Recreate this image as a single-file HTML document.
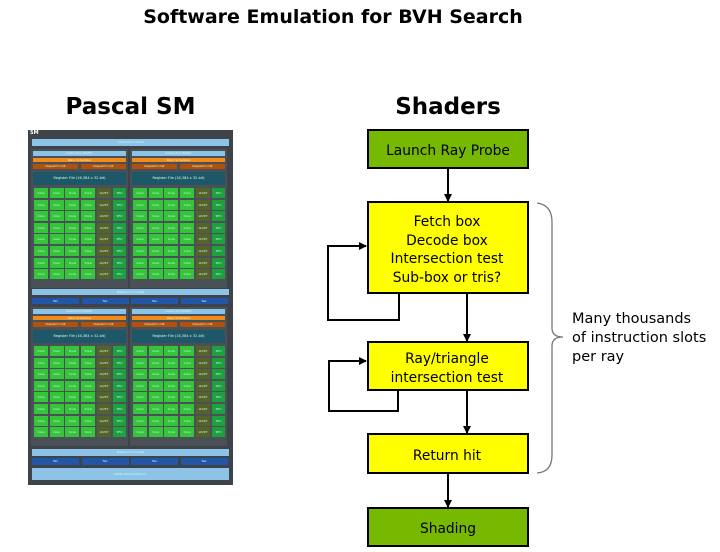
<!DOCTYPE html>
<html><head><meta charset="utf-8"><style>
body{margin:0;width:720px;height:552px;background:#fff;position:relative;overflow:hidden;font-family:"DejaVu Sans","Liberation Sans",sans-serif}
.a{position:absolute;box-sizing:border-box;color:#cfe;font-size:3px;text-align:center;overflow:hidden;white-space:nowrap}
</style></head><body>
<div style="position:absolute;left:0;width:666px;top:6px;text-align:center;font:bold 19px 'DejaVu Sans',sans-serif;color:#000">Software Emulation for BVH Search</div>
<div style="position:absolute;left:28px;width:205px;top:94px;text-align:center;font:bold 23px 'DejaVu Sans',sans-serif;color:#000">Pascal SM</div>
<div style="position:absolute;left:368px;width:160px;top:94px;text-align:center;font:bold 23px 'DejaVu Sans',sans-serif;color:#000">Shaders</div>
<div id="sm"></div>
<svg width="720" height="552" style="position:absolute;left:0;top:0" font-family="DejaVu Sans, Liberation Sans, sans-serif">
<defs><marker id="ar" markerWidth="8" markerHeight="8" refX="7" refY="4" orient="auto" markerUnits="userSpaceOnUse"><path d="M0,0 L8,4 L0,8 z" fill="#000"/></marker></defs>
<g stroke="#000" stroke-width="2">
<rect x="368" y="130" width="160" height="38" fill="#76b900"/>
<rect x="368" y="202" width="160" height="91" fill="#ffff00"/>
<rect x="368" y="342" width="160" height="48" fill="#ffff00"/>
<rect x="368" y="434" width="160" height="39" fill="#ffff00"/>
<rect x="368" y="508" width="160" height="38" fill="#76b900"/>
<g fill="none">
<line x1="448" y1="168" x2="448" y2="201" marker-end="url(#ar)"/>
<line x1="467" y1="293" x2="467" y2="341" marker-end="url(#ar)"/>
<polyline points="399,293 399,320 328,320 328,246 366,246" marker-end="url(#ar)"/>
<polyline points="398,390 398,411 329,411 329,361 366,361" marker-end="url(#ar)"/>
<line x1="467" y1="390" x2="467" y2="433" marker-end="url(#ar)"/>
<line x1="448" y1="473" x2="448" y2="507" marker-end="url(#ar)"/>
</g></g>
<path d="M537,203 Q552,205 552,222 L552,328 Q552,337 563,337 Q552,337 552,346 L552,455 Q552,472 537,473" fill="none" stroke="#777" stroke-width="1.3"/>
<g font-size="13.8" fill="#000" text-anchor="middle">
<text x="448" y="155">Launch Ray Probe</text>
<text x="447" y="226">Fetch box</text>
<text x="447" y="245">Decode box</text>
<text x="447" y="263">Intersection test</text>
<text x="447" y="282">Sub-box or tris?</text>
<text x="447" y="363">Ray/triangle</text>
<text x="447" y="382">intersection test</text>
<text x="447" y="460">Return hit</text>
<text x="448" y="533">Shading</text>
</g>
<g font-size="14.5" fill="#000">
<text x="572" y="323">Many thousands</text>
<text x="572" y="342">of instruction slots</text>
<text x="572" y="361">per ray</text>
</g>
</svg>
<script>
var h='';
function r(x,y,w,H,c,t,fs){h+='<div class="a" style="left:'+x+'px;top:'+y+'px;width:'+w+'px;height:'+H+'px;background:'+c+';line-height:'+H+'px'+(fs?';font-size:'+fs+'px':'')+'">'+(t||'')+'</div>';}
r(28,130,205,355,'#3d4348');
h+='<div class="a" style="left:30px;top:130px;color:#fff;font-size:5px;font-weight:bold">SM</div>';
r(32,139,197,7,'#8ec3e8','Instruction Cache');
function part(px,py){
 r(px,py,97,139,'#4a5156');
 r(px+2,py+2,93,5,'#8ec3e8','Instruction Buffer');
 r(px+2,py+9,93,4,'#f28a1c','Warp Scheduler');
 r(px+2,py+15,45,5,'#b0520e','Dispatch Unit');r(px+50,py+15,45,5,'#b0520e','Dispatch Unit');
 r(px+2,py+23,93,13,'#1e5868','Register File (16,384 x 32-bit)',3.5);
 for(var i=0;i<8;i++){var y=py+39+i*11.6;
  for(var j=0;j<4;j++) r(px+3+j*15.7,y,14,10,'#36c43a','Core');
  r(px+66,y,14,10,'#55632a','LD/ST');r(px+82,y,13,10,'#1fa040','SFU');}
}
part(31,149);part(130,149);
r(32,289,197,6,'#8ec3e8','Texture / L1 Cache');
for(var k=0;k<4;k++) r(32+k*49.5,298,47,6,'#2456a8','Tex');
part(31,307);part(130,307);
r(32,449,197,7,'#8ec3e8','Texture / L1 Cache');
for(var k=0;k<4;k++) r(32+k*49.5,458,47,7,'#2456a8','Tex');
r(32,468,197,12,'#8ec3e8','64KB Shared Memory');
document.getElementById('sm').innerHTML=h;
</script>
</body></html>
